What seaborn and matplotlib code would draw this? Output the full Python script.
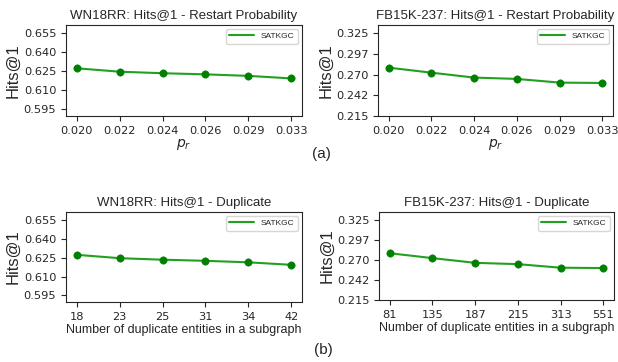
import seaborn as sns
import matplotlib.pyplot as plt

# valores
pr_labels = ['0.020', '0.022', '0.024', '0.026', '0.029', '0.033']
dup_wn_labels = ['18', '23', '25', '31', '34', '42']
dup_fb_labels = ['81', '135', '187', '215', '313', '551']

wn_pr = [0.6274, 0.6247, 0.6235, 0.6226, 0.6214, 0.6194]
fb_pr = [0.2793, 0.2726, 0.2661, 0.2643, 0.2594, 0.2589]
wn_dup = [0.6274, 0.6247, 0.6235, 0.6226, 0.6214, 0.6194]
fb_dup = [0.2793, 0.2726, 0.2661, 0.2643, 0.2594, 0.2589]

wn_ticks = [0.595, 0.610, 0.625, 0.640, 0.655]
fb_ticks = [0.215, 0.2425, 0.270, 0.2975, 0.325]

sns.set_style('ticks')
plt.rcParams['font.family'] = ['DejaVu Sans']
ARIAL = 'Liberation Sans'

fig = plt.figure(figsize=(6.18, 3.62), dpi=100)
W, H = 618, 362

def add_ax(l, t, r, b):
    return fig.add_axes([l / W, 1 - b / H, (r - l) / W, (b - t) / H])

paneles = [
    (add_ax(66, 25, 302, 116), pr_labels, wn_pr, wn_ticks, (0.5897, 0.6616),
     'WN18RR: Hits@1 - Restart Probability', r'$p_r$'),
    (add_ax(378, 25, 613, 116), pr_labels, fb_pr, fb_ticks, (0.215, 0.336),
     'FB15K-237: Hits@1 - Restart Probability', r'$p_r$'),
    (add_ax(66, 212, 302, 302), dup_wn_labels, wn_dup, wn_ticks, (0.5897, 0.6616),
     'WN18RR: Hits@1 - Duplicate', 'Number of duplicate entities in a subgraph'),
    (add_ax(379, 212, 614, 300), dup_fb_labels, fb_dup, fb_ticks, (0.215, 0.336),
     'FB15K-237: Hits@1 - Duplicate', 'Number of duplicate entities in a subgraph'),
]

for ax, xs, ys, yt, ylim, titulo, xlab in paneles:
    sns.lineplot(x=xs, y=ys, ax=ax, color='#22a022', lw=1.5, sort=False, label='SATKGC')
    sns.scatterplot(x=xs, y=ys, ax=ax, color='green', edgecolor='green', s=28,
                    legend=False, zorder=3)
    ax.set_ylim(*ylim)
    ax.set_yticks(yt)
    ax.set_yticklabels([f'{v:.3f}' for v in yt])
    ax.tick_params(labelsize=8.2)
    ax.set_title(titulo, fontsize=9.5, family=ARIAL, pad=4)
    ax.set_ylabel('Hits@1', fontsize=12, family=ARIAL, labelpad=2)
    if xlab.startswith('$'):
        ax.set_xlabel(xlab, fontsize=10, labelpad=1)
    else:
        ax.set_xlabel(xlab, fontsize=9, family=ARIAL, labelpad=2)
    ax.legend(loc='upper right', prop={'family': ARIAL, 'size': 6}, handlelength=3)
    for s in ax.spines.values():
        s.set_visible(True)
        s.set_linewidth(0.8)

fig.text(312 / W, 1 - 154 / H, '(a)', fontsize=11, family=ARIAL, va='center')
fig.text(314 / W, 1 - 350 / H, '(b)', fontsize=11, family=ARIAL, va='center')

fig.savefig('out.png', dpi=100)
